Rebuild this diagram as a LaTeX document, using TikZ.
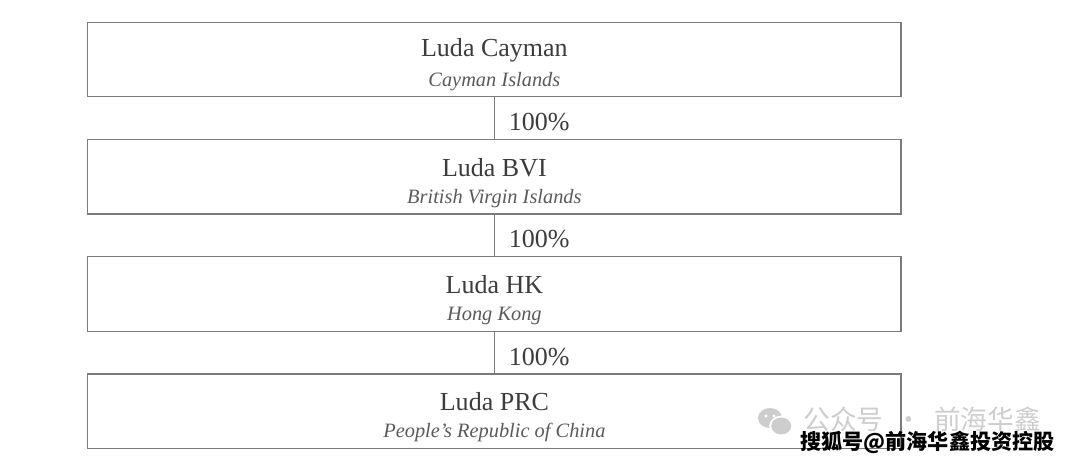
\documentclass[tikz,border=0pt]{standalone}
\usepackage{fontspec}
\setmainfont{Liberation Serif}
\newfontfamily\cjk{Noto Sans CJK SC}
\usepackage{xcolor}
\usepackage{tikz}
\usetikzlibrary{positioning}

\definecolor{boxline}{HTML}{7A7A7A}
\definecolor{nametext}{HTML}{3C3C3C}
\definecolor{placetext}{HTML}{5A5A5A}
\definecolor{wmgray}{HTML}{CDCDCD}

\begin{document}
\begin{tikzpicture}[-,auto,node distance=2.93cm,line width=0.8pt]
\tikzstyle{every company}=[draw=boxline,rectangle,minimum width=20.33cm,minimum height=1.86cm,inner sep=0pt]
\tikzstyle{entname}=[text=nametext,font=\fontsize{18.5}{20}\selectfont,inner sep=0pt]
\tikzstyle{entplace}=[text=placetext,font=\fontsize{14.5}{16}\selectfont\itshape,inner sep=0pt]
\tikzstyle{share}=[right,inner sep=0pt,xshift=0.35cm,yshift=-0.1cm,text=nametext,font=\fontsize{18.5}{20}\selectfont]

\useasboundingbox (0,0) rectangle (27cm,-11.65cm);

\node[every company] (C) at (12.36cm,-1.49cm) {};	%top
\node[every company] (B) [below of=C] {};
\node[every company] (H) [below of=B] {};
\node[every company] (P) [below of=H] {};	%bottom

\node[entname]  (Cn) at ([yshift=0.23cm]C.center)   {Luda Cayman};
\node[entplace] (Cp) at ([yshift=-0.54cm]C.center)  {Cayman Islands};
\node[entname]  (Bn) at ([yshift=0.23cm]B.center)   {Luda BVI};
\node[entplace] (Bp) at ([yshift=-0.54cm]B.center)  {British Virgin Islands};
\node[entname]  (Hn) at ([yshift=0.23cm]H.center)   {Luda HK};
\node[entplace] (Hp) at ([yshift=-0.54cm]H.center)  {Hong Kong};
\node[entname]  (Pn) at ([yshift=0.23cm]P.center)   {Luda PRC};
\node[entplace] (Pp) at ([yshift=-0.54cm]P.center)  {People's Republic of China};

\path[draw=boxline]
(C) edge	node[share] {100\%}	(B)
(B) edge	node[share] {100\%}	(H)
(H) edge	node[share] {100\%}	(P);

% watermark
\begin{scope}[shift={(19.25cm,-10.45cm)}]
\fill[wmgray] (0,0) ellipse (0.3cm and 0.25cm);
\fill[white] (0.28cm,-0.2cm) ellipse (0.3cm and 0.26cm);
\fill[wmgray] (0.28cm,-0.2cm) ellipse (0.25cm and 0.21cm);
\fill[white] (-0.1cm,0.05cm) circle (0.04cm) (0.1cm,0.05cm) circle (0.04cm);
\end{scope}
\node[anchor=west,text=wmgray,inner sep=0pt] (wm) at (20.07cm,-10.48cm) {\cjk\fontsize{19}{20}\selectfont 公众号\hspace{0.3cm}·\hspace{0.3cm}前海华鑫};
\node[anchor=west,inner sep=0pt] (so) at (20cm,-11.05cm) {\cjk\bfseries\fontsize{15}{16}\selectfont 搜狐号@前海华鑫投资控股};
\end{tikzpicture}
\end{document}
